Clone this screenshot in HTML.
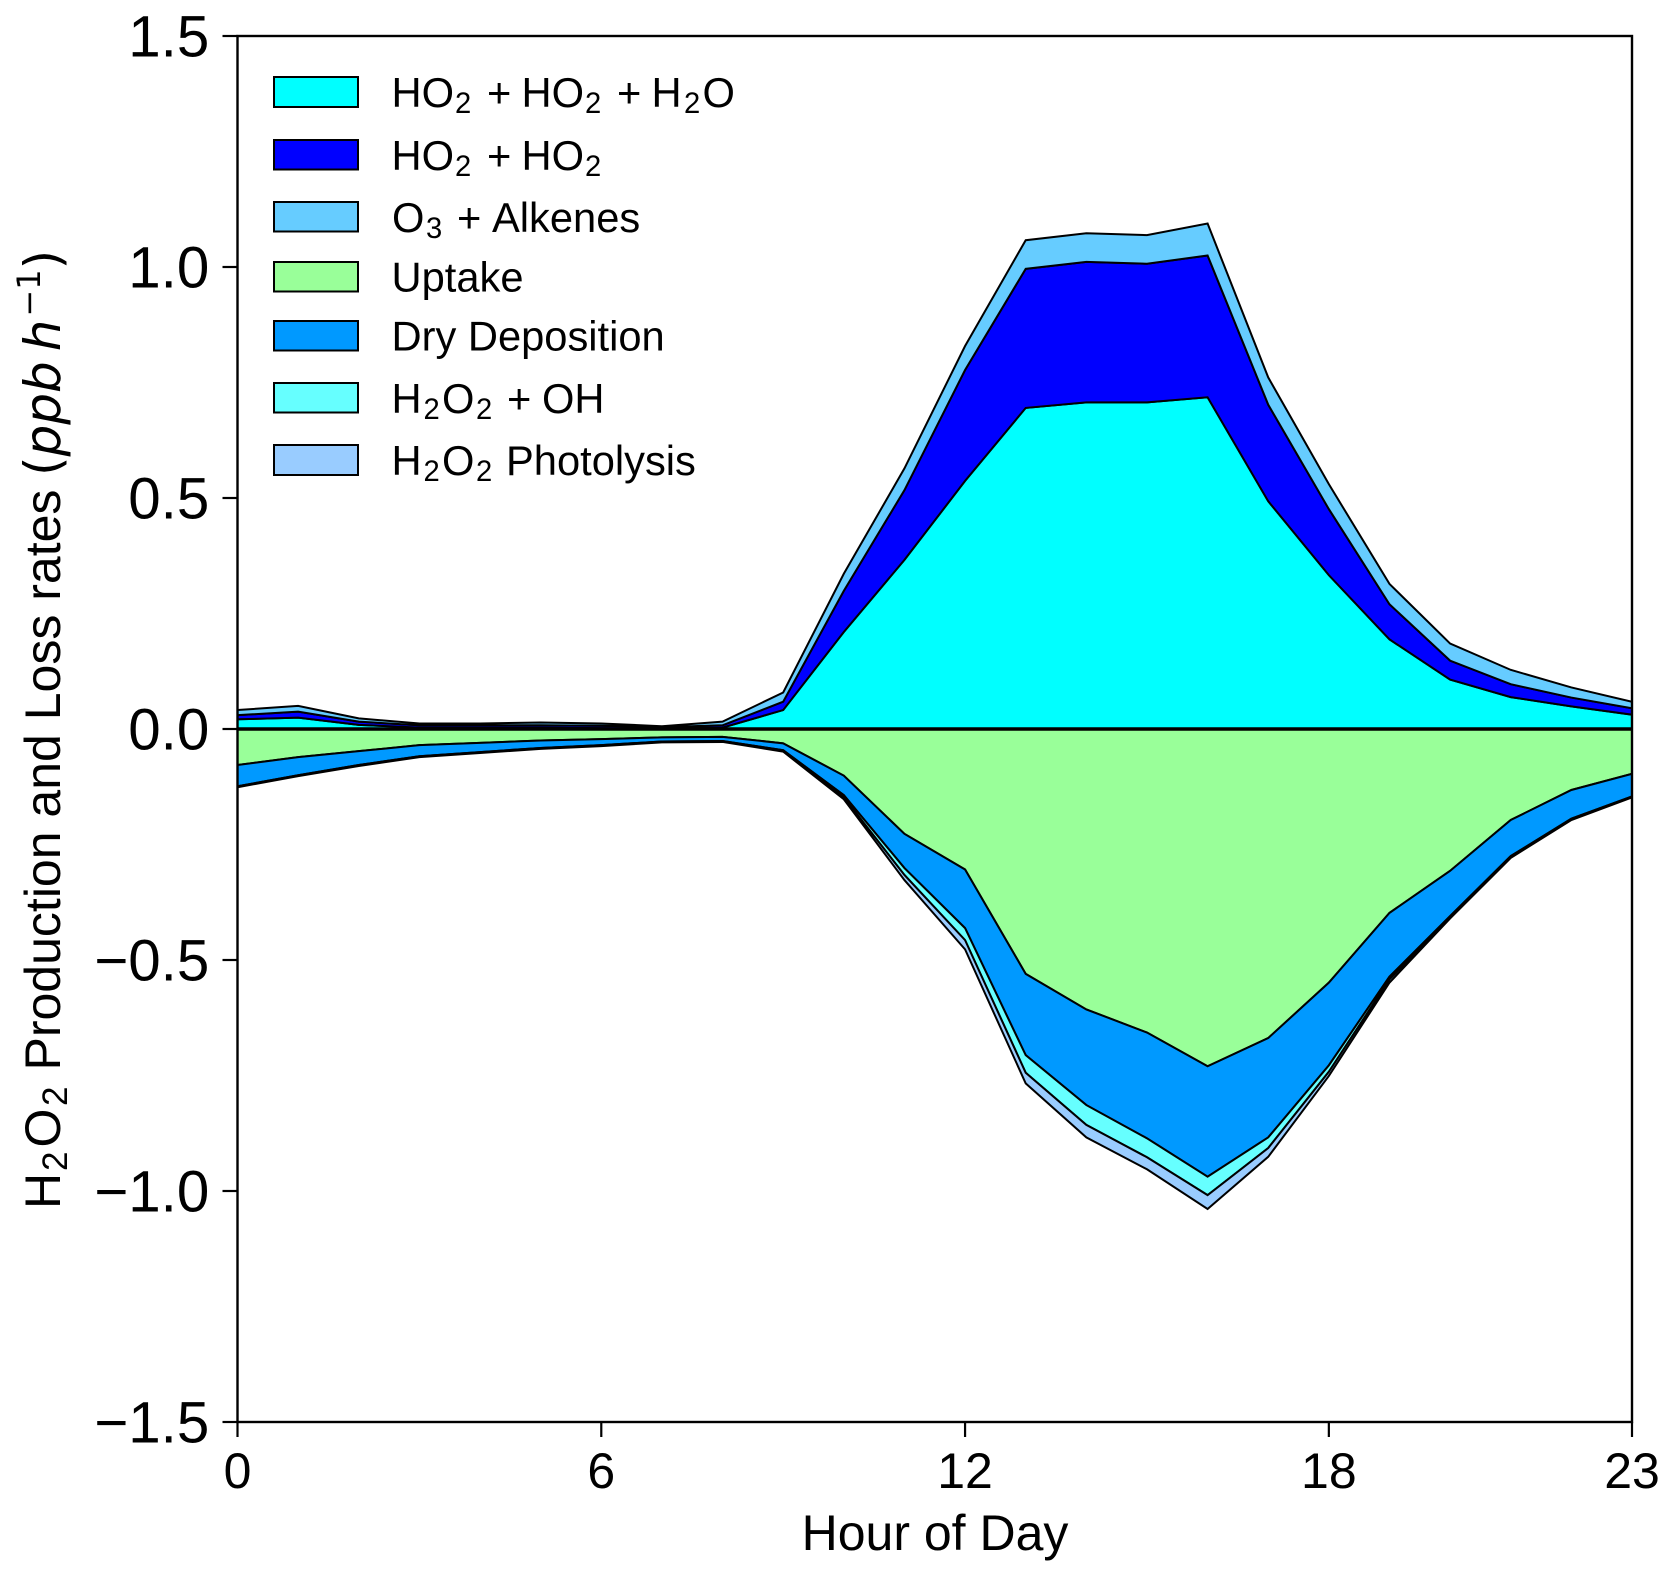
<!DOCTYPE html>
<html>
<head>
<meta charset="utf-8">
<style>
html,body{margin:0;padding:0;background:#fff;width:1674px;height:1578px;overflow:hidden}
svg{display:block}
text{font-family:"Liberation Sans",Arial,sans-serif;fill:#000}
.leg{font-size:41.67px}
.yl{font-size:50px}
.dj{font-family:"DejaVu Sans",sans-serif}
</style>
</head>
<body>
<svg id="chart" xmlns="http://www.w3.org/2000/svg" width="1674" height="1578" viewBox="0 0 1674 1578">
  <defs><clipPath id="plot-clip"><rect x="237.5" y="36" width="1394.5" height="1386"/></clipPath></defs>
  <rect x="237.5" y="36" width="1394.5" height="1386" fill="#fff"/>
  <g id="areas" clip-path="url(#plot-clip)"></g>
  <line id="zero-line" stroke="#000" stroke-width="3.4"/>
  <g id="ticks"></g>
  <rect x="237.5" y="36" width="1394.5" height="1386" fill="none" stroke="#000" stroke-width="2.4"/>

  <g>
    <g>
      <rect x="274" y="77" width="84" height="30" fill="#00FFFF" stroke="#000" stroke-width="2"/>
      <text class="leg" y="107.2"><tspan x="391.5">HO</tspan><tspan x="455" dy="6" font-size="29.2">2</tspan><tspan x="487" dy="-6">+</tspan><tspan x="521.5">HO</tspan><tspan x="585" dy="6" font-size="29.2">2</tspan><tspan x="617" dy="-6">+</tspan><tspan x="651.5">H</tspan><tspan x="684" dy="6" font-size="29.2">2</tspan><tspan x="702.5" dy="-6">O</tspan></text>
    </g>
    <g>
      <rect x="274" y="140" width="84" height="29.5" fill="#0000FF" stroke="#000" stroke-width="2"/>
      <text class="leg" y="169.8"><tspan x="391.5">HO</tspan><tspan x="455" dy="6" font-size="29.2">2</tspan><tspan x="487" dy="-6">+</tspan><tspan x="521.5">HO</tspan><tspan x="585" dy="6" font-size="29.2">2</tspan></text>
    </g>
    <g>
      <rect x="274" y="202" width="84" height="29.5" fill="#66CCFF" stroke="#000" stroke-width="2"/>
      <text class="leg" y="232.2"><tspan x="392">O</tspan><tspan x="426" dy="6" font-size="29.2">3</tspan><tspan x="457" dy="-6">+</tspan><tspan x="492">Alkenes</tspan></text>
    </g>
    <g>
      <rect x="274" y="262" width="84" height="29.5" fill="#99FF99" stroke="#000" stroke-width="2"/>
      <text class="leg" x="391.5" y="291.7">Uptake</text>
    </g>
    <g>
      <rect x="274" y="321" width="84" height="29.5" fill="#0099FF" stroke="#000" stroke-width="2"/>
      <text class="leg" x="391.5" y="350.7">Dry Deposition</text>
    </g>
    <g>
      <rect x="274" y="383" width="84" height="29.5" fill="#66FFFF" stroke="#000" stroke-width="2"/>
      <text class="leg" y="412.8"><tspan x="391.5">H</tspan><tspan x="423.5" dy="6" font-size="29.2">2</tspan><tspan x="442" dy="-6">O</tspan><tspan x="476" dy="6" font-size="29.2">2</tspan><tspan x="507" dy="-6">+</tspan><tspan x="542">OH</tspan></text>
    </g>
    <g>
      <rect x="274" y="445" width="84" height="30" fill="#99CCFF" stroke="#000" stroke-width="2"/>
      <text class="leg" y="474.8"><tspan x="391.5">H</tspan><tspan x="423.5" dy="6" font-size="29.2">2</tspan><tspan x="442" dy="-6">O</tspan><tspan x="476" dy="6" font-size="29.2">2</tspan><tspan x="506" dy="-6">Photolysis</tspan></text>
    </g>
  </g>

  <text x="935" y="1550" font-size="50" text-anchor="middle">Hour of Day</text>
  <text class="yl" transform="translate(60,1209) rotate(-90)"><tspan x="0">H</tspan><tspan x="38" dy="7" font-size="35">2</tspan><tspan x="61.5" dy="-7">O</tspan><tspan x="103" dy="7" font-size="35">2</tspan><tspan x="138.5" dy="-7">Production and Loss rates</tspan><tspan x="733" class="dj">(</tspan><tspan class="dj" font-style="italic">ppb</tspan><tspan class="dj" dx="10" font-style="italic">h</tspan><tspan class="dj" dy="-20" font-size="32" dx="3">−1</tspan><tspan class="dj" dy="20">)</tspan></text>
</svg>
<script>
var hours = [0,1,2,3,4,5,6,7,8,9,10,11,12,13,14,15,16,17,18,19,20,21,22,23];
var ho2Ho2H2o = [0.021,0.0245,0.009,0.003,0.003,0.003,0.002,0.001,0.003,0.041,0.21,0.366,0.537,0.695,0.707,0.707,0.718,0.493,0.333,0.194,0.107,0.069,0.049,0.031];
var ho2Ho2 = [0.009,0.013,0.007,0.005,0.005,0.005,0.005,0.003,0.005,0.018,0.089,0.151,0.24,0.301,0.304,0.3,0.307,0.209,0.143,0.076,0.041,0.028,0.019,0.014];
var o3Alkenes = [0.011,0.0125,0.007,0.004,0.004,0.006,0.005,0.002,0.008,0.02,0.037,0.047,0.052,0.062,0.062,0.062,0.069,0.059,0.054,0.044,0.037,0.031,0.022,0.014];
var uptake = [-0.078,-0.061,-0.048,-0.035,-0.03,-0.025,-0.022,-0.018,-0.017,-0.031,-0.101,-0.227,-0.304,-0.53,-0.607,-0.657,-0.73,-0.669,-0.549,-0.398,-0.307,-0.197,-0.132,-0.097];
var dryDeposition = [-0.046,-0.039,-0.03,-0.024,-0.02,-0.016,-0.013,-0.009,-0.009,-0.015,-0.042,-0.074,-0.127,-0.176,-0.207,-0.229,-0.239,-0.215,-0.179,-0.138,-0.098,-0.078,-0.062,-0.049];
var h2o2Oh = [-0.001,-0.001,-0.001,-0.001,-0.001,-0.001,-0.001,-0.001,-0.001,-0.001,-0.005,-0.015,-0.026,-0.038,-0.043,-0.041,-0.04,-0.023,-0.014,-0.006,-0.003,-0.002,-0.002,-0.001];
var h2o2Photolysis = [-0.001,-0.001,-0.001,-0.001,-0.001,-0.001,-0.001,-0.001,-0.001,-0.002,-0.004,-0.011,-0.02,-0.023,-0.027,-0.026,-0.03,-0.019,-0.009,-0.007,-0.002,-0.002,-0.001,-0.001];
var xTickValues = [0,6,12,18,23];
var yTickValues = [1.5,1.0,0.5,0.0,-0.5,-1.0,-1.5];
var yTickLabels = ['1.5','1.0','0.5','0.0','\u22120.5','\u22121.0','\u22121.5'];

var SVGNS = 'http://www.w3.org/2000/svg';
function xScale(h){ return 237.5 + h * (1394.5 / 23); }
function yScale(v){ return 729 - v * 462; }

function drawStack(seriesList, names, colors){
  var areas = document.getElementById('areas');
  var base = hours.map(function(){ return 0; });
  seriesList.forEach(function(series, s){
    var top = base.map(function(b, i){ return b + series[i]; });
    var d = '';
    hours.forEach(function(h, i){ d += (i ? 'L' : 'M') + xScale(h).toFixed(2) + ' ' + yScale(top[i]).toFixed(2); });
    for (var i = hours.length - 1; i >= 0; i--) { d += 'L' + xScale(hours[i]).toFixed(2) + ' ' + yScale(base[i]).toFixed(2); }
    d += 'Z';
    var p = document.createElementNS(SVGNS, 'path');
    p.setAttribute('d', d);
    p.setAttribute('fill', colors[s]);
    p.setAttribute('stroke', '#000');
    p.setAttribute('stroke-width', '2');
    p.setAttribute('stroke-linejoin', 'miter');
    
    
    areas.appendChild(p);
    base = top;
  });
}
drawStack([ho2Ho2H2o, ho2Ho2, o3Alkenes],
  ['area-ho2-ho2-h2o','area-ho2-ho2','area-o3-alkenes'],
  ['#00FFFF','#0000FF','#66CCFF']);
drawStack([uptake, dryDeposition, h2o2Oh, h2o2Photolysis],
  ['area-uptake','area-dry-deposition','area-h2o2-oh','area-h2o2-photolysis'],
  ['#99FF99','#0099FF','#66FFFF','#99CCFF']);

var zero = document.getElementById('zero-line');
zero.setAttribute('x1', xScale(0));
zero.setAttribute('x2', xScale(23));
zero.setAttribute('y1', yScale(0));
zero.setAttribute('y2', yScale(0));

var tickGroup = document.getElementById('ticks');
xTickValues.forEach(function(v){
  var x = xScale(v);
  var line = document.createElementNS(SVGNS, 'line');
  line.setAttribute('x1', x);
  line.setAttribute('x2', x);
  line.setAttribute('y1', 1422);
  line.setAttribute('y2', 1437);
  line.setAttribute('stroke', '#000');
  line.setAttribute('stroke-width', '2.2');
  
  
  tickGroup.appendChild(line);
  var t = document.createElementNS(SVGNS, 'text');
  t.setAttribute('x', x);
  t.setAttribute('y', 1488);
  t.setAttribute('font-size', '50');
  t.setAttribute('text-anchor', 'middle');
  
  
  t.textContent = String(v);
  tickGroup.appendChild(t);
});
yTickValues.forEach(function(v, i){
  var y = yScale(v);
  var line = document.createElementNS(SVGNS, 'line');
  line.setAttribute('x1', 222.5);
  line.setAttribute('x2', 237.5);
  line.setAttribute('y1', y);
  line.setAttribute('y2', y);
  line.setAttribute('stroke', '#000');
  line.setAttribute('stroke-width', '2.2');
  
  
  tickGroup.appendChild(line);
  var t = document.createElementNS(SVGNS, 'text');
  t.setAttribute('x', 209.3);
  t.setAttribute('y', y + 20.7);
  t.setAttribute('font-size', '58.3');
  t.setAttribute('text-anchor', 'end');
  
  
  t.textContent = yTickLabels[i];
  tickGroup.appendChild(t);
});
</script>
</body>
</html>
